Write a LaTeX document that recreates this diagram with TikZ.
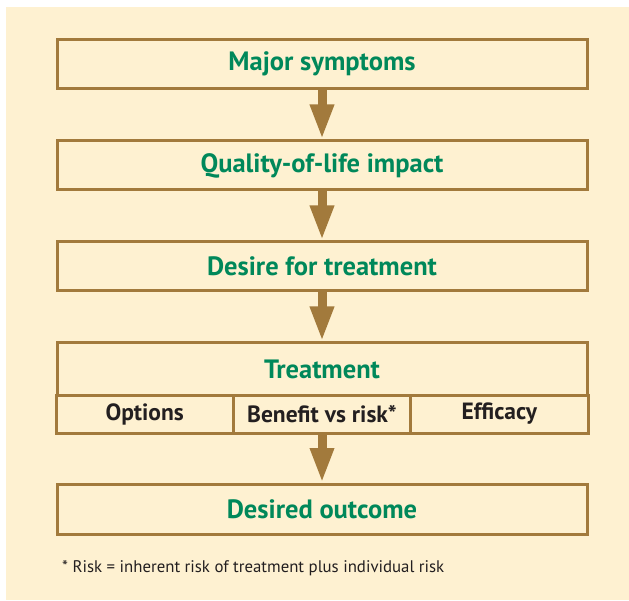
\documentclass[tikz,border=0pt]{standalone}
\usepackage{fontspec}
\setmainfont{PT Sans}
\usetikzlibrary{arrows.meta,positioning}
\definecolor{cream}{HTML}{FEF1D1}
\definecolor{boxbrown}{HTML}{A27A3C}
\definecolor{titlegreen}{HTML}{00885A}
\definecolor{darktext}{HTML}{231F20}
\tikzset{
  every picture/.style = {
    x = 1pt,
    y = -1pt,
  }
  , % boxes of the chain
  stage/.style = {
    rectangle,
    draw = boxbrown,
    line width = 3pt,
    fill = cream,
    inner sep = 0pt,
    minimum width = 530pt,
    minimum height = 49pt,
    text = titlegreen,
    font = \fontsize{26.5}{30}\selectfont\bfseries
  }
  , % cells under treatment
  part/.style = {
    stage,
    minimum width = 177.33pt,
    minimum height = 38pt,
    text = darktext,
    font = \fontsize{23.5}{27}\selectfont\bfseries
  }
  , % arrows between boxes
  flow/.style = {
    -{Triangle[length=35pt,width=22pt]},
    draw = boxbrown,
    line width = 9pt
  }
}
\begin{document}
\begin{tikzpicture}
\useasboundingbox (0,0) rectangle (629,601);
\fill[cream] (6,7) rectangle (629,600);

\node[stage] (major) at (322,64) {Major symptoms};
\node[stage] (qol) at (322,165.5) {Quality-of-life impact};
\node[stage] (desire) at (322,266.5) {Desire for treatment};
\node[stage, minimum height = 52pt] (treat) at (322,369) {Treatment};
\node[part] (options) at (144.67,414) {Options};
\node[part] (risk) at (322,414) {Benefit vs risk*};
\node[part] (efficacy) at (499.33,414) {Efficacy};
\node[stage, minimum height = 50pt] (outcome) at (322,509.5) {Desired outcome};

\draw[flow] (major.south) -- (qol.north);
\draw[flow] (qol.south) -- (desire.north);
\draw[flow] (desire.south) -- (treat.north);
\draw[flow] (risk.south) -- (outcome.north);

\node[anchor=base west, inner sep=0pt, text=darktext, font=\fontsize{16.8}{20}\selectfont] (note) at (62,572) {* Risk = inherent risk of treatment plus individual risk};
\end{tikzpicture}
\end{document}
